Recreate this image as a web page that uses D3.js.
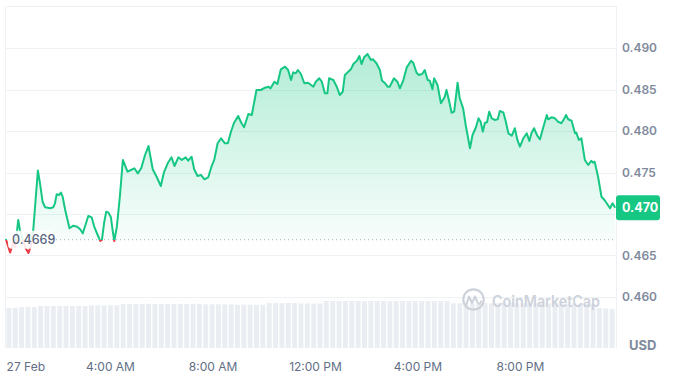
<!DOCTYPE html>
<html>
<head>
<meta charset="utf-8">
<script src="https://cdn.jsdelivr.net/npm/d3@7"></script>
<style>
  body { margin: 0; background: #fff; }
  #chart text { font-family: Inter, "Noto Sans", sans-serif; }
</style>
</head>
<body>
<div id="chart"></div>
<script>
// 680x377 window
let width = 680;
let height = 377;

// [minutes after 27 Feb 00:00, price in USD]
let pricePoints = [
  [-4,0.46699],[6,0.46536],[13,0.46651],[18,0.46602],[25,0.46928],[29,0.46807],[36,0.46675],[42,0.46590],
  [49,0.46530],[55,0.46627],[60,0.46795],[71,0.47524],[76,0.47370],[82,0.47148],[88,0.47081],[100,0.47069],
  [107,0.47081],[111,0.47129],[115,0.47237],[121,0.47229],[125,0.47257],[129,0.47208],[135,0.47048],[145,0.46828],
  [154,0.46859],[163,0.46847],[170,0.46816],[176,0.46767],[183,0.46876],[189,0.46976],[197,0.46960],[203,0.46847],
  [210,0.46759],[217,0.46675],[221,0.46687],[226,0.46888],[231,0.47028],[236,0.47020],[242,0.46960],[246,0.46807],
  [250,0.46675],[256,0.46847],[263,0.47208],[270,0.47651],[281,0.47510],[289,0.47530],[297,0.47551],[305,0.47490],
  [313,0.47551],[322,0.47711],[330,0.47819],[340,0.47539],[349,0.47449],[359,0.47337],[366,0.47498],[375,0.47611],
  [384,0.47683],[391,0.47578],[400,0.47683],[408,0.47651],[417,0.47683],[423,0.47642],[431,0.47690],[437,0.47539],
  [445,0.47458],[453,0.47470],[461,0.47418],[470,0.47442],[478,0.47578],[484,0.47651],[492,0.47852],[500,0.47912],
  [509,0.47852],[516,0.47852],[523,0.47988],[530,0.48093],[540,0.48181],[548,0.48093],[554,0.48045],[564,0.48205],
  [572,0.48193],[583,0.48494],[593,0.48494],[603,0.48522],[611,0.48534],[616,0.48514],[625,0.48594],[632,0.48566],
  [640,0.48743],[650,0.48775],[657,0.48735],[664,0.48614],[669,0.48707],[675,0.48695],[680,0.48735],[687,0.48687],
  [695,0.48575],[704,0.48582],[716,0.48534],[722,0.48594],[730,0.48635],[736,0.48594],[743,0.48454],[749,0.48454],
  [753,0.48635],[763,0.48614],[771,0.48534],[778,0.48434],[785,0.48473],[790,0.48675],[798,0.48714],[804,0.48743],
  [810,0.48807],[818,0.48847],[824,0.48904],[829,0.48807],[835,0.48888],[843,0.48928],[851,0.48855],[856,0.48864],
  [864,0.48816],[872,0.48735],[877,0.48606],[883,0.48582],[890,0.48534],[895,0.48534],[905,0.48635],[913,0.48594],
  [919,0.48514],[927,0.48614],[935,0.48767],[945,0.48847],[950,0.48823],[958,0.48702],[963,0.48675],[971,0.48687],
  [977,0.48735],[984,0.48614],[989,0.48606],[995,0.48502],[999,0.48635],[1007,0.48554],[1015,0.48334],[1024,0.48413],
  [1028,0.48494],[1034,0.48365],[1040,0.48220],[1046,0.48233],[1054,0.48582],[1059,0.48394],[1067,0.48273],[1073,0.48072],
  [1083,0.47792],[1089,0.47952],[1097,0.48045],[1103,0.48153],[1108,0.48112],[1113,0.47992],[1118,0.48100],[1123,0.48105],
  [1128,0.48233],[1134,0.48153],[1141,0.48133],[1148,0.48141],[1153,0.48241],[1161,0.48225],[1166,0.48133],[1173,0.47972],
  [1181,0.47943],[1188,0.48033],[1194,0.47892],[1200,0.47811],[1208,0.47912],[1216,0.47972],[1222,0.47880],[1227,0.47972],
  [1233,0.48033],[1241,0.47940],[1247,0.47900],[1255,0.48052],[1263,0.48193],[1266,0.48141],[1274,0.48165],[1282,0.48153],
  [1289,0.48112],[1297,0.48093],[1303,0.48141],[1308,0.48193],[1313,0.48141],[1321,0.48124],[1329,0.47972],[1332,0.47980],
  [1338,0.47892],[1344,0.47912],[1352,0.47651],[1360,0.47590],[1367,0.47642],[1371,0.47618],[1375,0.47630],[1383,0.47449],
  [1391,0.47208],[1398,0.47169],[1406,0.47108],[1411,0.47069],[1417,0.47129],[1423,0.47076]
];

// 15 minute volume buckets (millions)
let volumes = [
  40.0,40.2,41.0,41.2,41.0,42.0,42.1,41.9,42.0,42.2,42.0,42.1,42.0,42.7,42.8,42.6,
  42.7,42.8,44.0,44.1,43.9,44.0,44.2,44.0,44.1,43.9,44.0,44.1,44.0,44.2,44.0,43.7,
  43.7,43.8,43.6,43.7,43.3,43.4,43.3,43.2,43.3,45.0,45.1,44.9,45.0,45.0,44.5,44.6,
  44.4,44.5,47.0,47.1,46.9,47.0,47.2,47.0,46.9,47.1,47.0,47.0,46.8,47.0,47.1,47.0,
  46.9,47.0,47.1,47.0,46.9,47.0,44.7,44.8,44.6,44.7,44.7,44.9,44.7,44.6,44.7,44.8,
  44.7,44.6,44.7,44.7,44.8,44.6,44.7,44.7,44.5,44.6,44.4,44.3,44.2,40.0,39.5,39.0
];

let yTicks = [0.460, 0.465, 0.470, 0.475, 0.480, 0.485, 0.490];
let openPrice = 0.4669;
let dayStart = new Date(2025, 1, 27);

let green = '#16c784';
let red = '#ea3943';
let gridColour = '#eff2f5';

let toDate = (m) => d3.timeMinute.offset(dayStart, m);

let x = d3.scaleTime()
    .domain([toDate(-6), toDate(1425)])
    .range([5, 616]);

let y = d3.scaleLinear()
    .domain([0.460, 0.490])
    .range([297, 48]);

let xVol = d3.scaleBand()
    .domain(d3.range(volumes.length))
    .range([5, 616])
    .padding(0.22);

let yVol = d3.scaleLinear()
    .domain([0, 48])
    .range([348, 300]);

let svg = d3.select('#chart').append('svg')
    .attr('width', width)
    .attr('height', height);

let defs = svg.append('defs');
let yBase = y(openPrice);
let last = pricePoints[pricePoints.length - 1][1];
let badgeY = y(last);

// line colour switches at the opening price
let lineGrad = defs.append('linearGradient')
    .attr('id', 'line-grad')
    .attr('gradientUnits', 'userSpaceOnUse')
    .attr('x1', 0).attr('y1', 0).attr('x2', 0).attr('y2', height);
lineGrad.append('stop').attr('offset', yBase / height).attr('stop-color', green);
lineGrad.append('stop').attr('offset', yBase / height).attr('stop-color', red);

let upFill = defs.append('linearGradient')
    .attr('id', 'up-fill')
    .attr('gradientUnits', 'userSpaceOnUse')
    .attr('x1', 0).attr('y1', y(0.4895)).attr('x2', 0).attr('y2', yBase);
upFill.append('stop').attr('offset', 0).attr('stop-color', green).attr('stop-opacity', 0.33);
upFill.append('stop').attr('offset', 1).attr('stop-color', green).attr('stop-opacity', 0.03);

let downFill = defs.append('linearGradient')
    .attr('id', 'down-fill')
    .attr('gradientUnits', 'userSpaceOnUse')
    .attr('x1', 0).attr('y1', yBase).attr('x2', 0).attr('y2', y(0.4652));
downFill.append('stop').attr('offset', 0).attr('stop-color', red).attr('stop-opacity', 0.02);
downFill.append('stop').attr('offset', 1).attr('stop-color', red).attr('stop-opacity', 0.12);

defs.append('clipPath').attr('id', 'clip-up')
    .append('rect').attr('x', 0).attr('y', 0).attr('width', width).attr('height', yBase);
defs.append('clipPath').attr('id', 'clip-down')
    .append('rect').attr('x', 0).attr('y', yBase).attr('width', width).attr('height', height - yBase);

// volume
svg.append('g')
    .selectAll('rect')
    .data(volumes)
    .enter().append('rect')
    .attr('x', (d, i) => xVol(i))
    .attr('width', xVol.bandwidth())
    .attr('y', (d) => yVol(d))
    .attr('height', (d) => yVol(0) - yVol(d))
    .attr('fill', '#eaeef3');

// frame + grid
svg.append('g')
    .selectAll('line')
    .data(yTicks)
    .enter().append('line')
    .attr('x1', 5).attr('x2', 616)
    .attr('y1', (d) => Math.round(y(d)) + 0.5)
    .attr('y2', (d) => Math.round(y(d)) + 0.5)
    .attr('stroke', gridColour);

let frame = svg.append('g').attr('stroke', gridColour).attr('fill', 'none');
frame.append('line').attr('x1', 5).attr('x2', 616.5).attr('y1', 6.5).attr('y2', 6.5);
frame.append('line').attr('x1', 5.5).attr('x2', 5.5).attr('y1', 6).attr('y2', 348);
frame.append('line').attr('x1', 616.5).attr('x2', 616.5).attr('y1', 6).attr('y2', 348);

// watermark
let mark = svg.append('g').attr('fill', 'none').attr('stroke', '#cdd2db');
mark.append('circle').attr('cx', 473.5).attr('cy', 299.5).attr('r', 10.2).attr('stroke-width', 2.2);
mark.append('path')
    .attr('d', 'M466.5,304 L469,296.5 L472,303 L475,296.5 L477.5,302.5 Q479.5,305.5 481,301.5')
    .attr('stroke-width', 2).attr('stroke-linejoin', 'round').attr('stroke-linecap', 'round');
svg.append('text')
    .attr('x', 492).attr('y', 306.5)
    .attr('font-size', 15.5).attr('font-weight', 600)
    .attr('fill', '#cdd2db')
    .attr('textLength', 108).attr('lengthAdjust', 'spacingAndGlyphs')
    .text('CoinMarketCap');

// price area and line
let area = d3.area()
    .x((d) => x(toDate(d[0])))
    .y0(yBase)
    .y1((d) => y(d[1]));

svg.append('path')
    .datum(pricePoints)
    .attr('d', area)
    .attr('fill', 'url(#up-fill)')
    .attr('clip-path', 'url(#clip-up)');
svg.append('path')
    .datum(pricePoints)
    .attr('d', area)
    .attr('fill', 'url(#down-fill)')
    .attr('clip-path', 'url(#clip-down)');

let line = d3.line()
    .x((d) => x(toDate(d[0])))
    .y((d) => y(d[1]));

svg.append('path')
    .datum(pricePoints)
    .attr('d', line)
    .attr('fill', 'none')
    .attr('stroke', 'url(#line-grad)')
    .attr('stroke-width', 2)
    .attr('stroke-linejoin', 'round');

// opening price reference
svg.append('line')
    .attr('x1', 8).attr('x2', 616)
    .attr('y1', yBase).attr('y2', yBase)
    .attr('stroke', '#a6b0c3')
    .attr('stroke-width', 1)
    .attr('stroke-dasharray', '1,3');
svg.append('rect')
    .attr('x', 8).attr('y', yBase - 9).attr('width', 45).attr('height', 18).attr('rx', 4)
    .attr('fill', '#fff').attr('fill-opacity', 0.88);
svg.append('text')
    .attr('x', 12).attr('y', yBase + 4.5)
    .attr('font-size', 12.5).attr('font-weight', 500)
    .attr('fill', '#58667e')
    .text(d3.format('.4f')(openPrice));

// y axis on the right; the tick under the price badge is covered by it
let yAxis = svg.append('g')
    .attr('transform', 'translate(616,0)')
    .call(d3.axisRight(y).tickValues(yTicks).tickFormat(d3.format('.3f')).tickSize(0).tickPadding(6));
yAxis.select('.domain').remove();
yAxis.selectAll('text')
    .attr('font-size', 12).attr('font-weight', 600)
    .attr('fill', '#808a9d')
    .style('font-family', 'Inter, sans-serif');
yAxis.selectAll('.tick').filter((d) => Math.abs(y(d) - badgeY) < 18).remove();

// x axis
let xAxis = svg.append('g')
    .attr('transform', 'translate(0,352)')
    .call(d3.axisBottom(x)
        .ticks(d3.timeHour.every(4))
        .tickSize(0).tickPadding(10)
        .tickFormat((d) => d.getHours() === 0 ? d3.timeFormat('%-d %b')(d) : d3.timeFormat('%-I:%M %p')(d)));
xAxis.select('.domain').remove();
xAxis.selectAll('text')
    .attr('font-size', 12).attr('font-weight', 400)
    .attr('fill', '#616e85')
    .style('font-family', 'Inter, sans-serif');
xAxis.selectAll('.tick').filter((d) => d.getHours() === 0)
    .select('text').attr('text-anchor', 'start').attr('dx', -1.5);

svg.append('text')
    .attr('x', 629).attr('y', 350)
    .attr('font-size', 13).attr('font-weight', 700)
    .attr('fill', '#808a9d')
    .text('USD');

// current price badge
svg.append('rect')
    .attr('x', 616).attr('y', badgeY - 12.5).attr('width', 44).attr('height', 25).attr('rx', 3)
    .attr('fill', green);
svg.append('text')
    .attr('x', 622).attr('y', badgeY + 4.5)
    .attr('font-size', 12.5).attr('font-weight', 700)
    .attr('fill', '#fff')
    .text(d3.format('.3f')(Math.floor(last * 1000) / 1000));
</script>
</body>
</html>
